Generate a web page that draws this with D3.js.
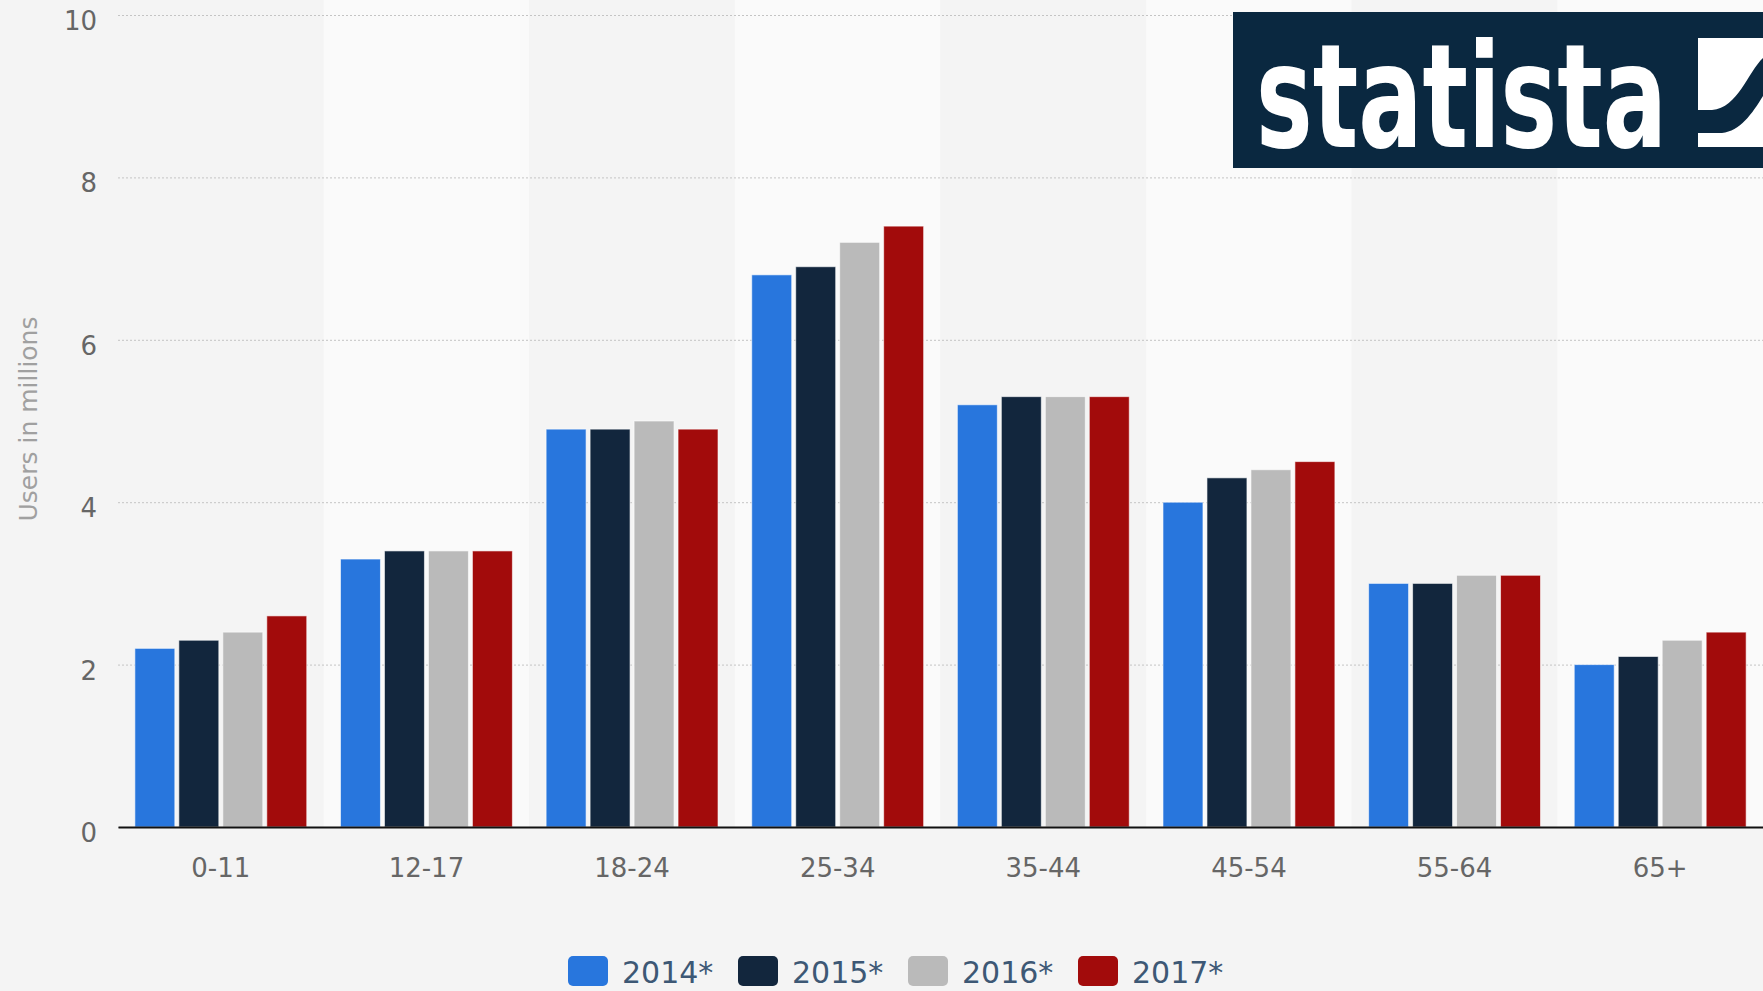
<!DOCTYPE html>
<html>
<head>
<meta charset="utf-8">
<script src="https://d3js.org/d3.v7.min.js"></script>
<style>
	body { margin: 0; background: #f4f4f4; }
	svg { display: block; }
</style>
</head>
<body>
<svg id="chart" width="1763" height="991"></svg>
<script>
// age groups on the x axis
const AGE_GROUPS = ["0-11", "12-17", "18-24", "25-34", "35-44", "45-54", "55-64", "65+"];
const YEARS = ["2014*", "2015*", "2016*", "2017*"];

// users in millions, one array per year (same order as AGE_GROUPS)
const users2014 = [2.2, 3.3, 4.9, 6.8, 5.2, 4.0, 3.0, 2.0];
const users2015 = [2.3, 3.4, 4.9, 6.9, 5.3, 4.3, 3.0, 2.1];
const users2016 = [2.4, 3.4, 5.0, 7.2, 5.3, 4.4, 3.1, 2.3];
const users2017 = [2.6, 3.4, 4.9, 7.4, 5.3, 4.5, 3.1, 2.4];

const Y_TICKS = [0, 2, 4, 6, 8, 10];
const COLORS = ["#2876dd", "#12263d", "#bababa", "#a20b0b"];

const seriesValues = [users2014, users2015, users2016, users2017];

const svg = d3.select("#chart");
const margins = {top: 15, right: 0, bottom: 164, left: 118};
const width = 1763, height = 991;
const baseY = height - margins.bottom;

let x0 = d3.scaleBand()
	.domain(AGE_GROUPS)
	.range([margins.left, width - margins.right])
	.paddingInner(0.164)
	.paddingOuter(0.082);

let x1 = d3.scaleBand()
	.domain(YEARS)
	.range([0, x0.bandwidth()])
	.paddingInner(0.091);

let y = d3.scaleLinear()
	.domain([0, 10])
	.range([baseY, margins.top]);

let color = d3.scaleOrdinal().domain(YEARS).range(COLORS);

// alternating column backgrounds
let halfGap = x0.step() * x0.paddingInner() / 2;
svg.append("g").selectAll("rect")
	.data(AGE_GROUPS)
	.join("rect")
	.attr("x", d => x0(d) - halfGap)
	.attr("y", 0)
	.attr("width", x0.step())
	.attr("height", baseY)
	.attr("fill", (d, i) => i % 2 ? "#fafafa" : "#f4f4f4");

// dotted grid lines + y labels
let yAxis = svg.append("g")
	.attr("transform", `translate(${margins.left},0)`)
	.call(d3.axisLeft(y).tickValues(Y_TICKS).tickSize(-(width - margins.left - margins.right)).tickPadding(21));
yAxis.select(".domain").remove();
yAxis.selectAll(".tick line")
	.attr("stroke", "#c4c4c4")
	.attr("stroke-dasharray", "2,2");
yAxis.selectAll(".tick text")
	.attr("dy", "14.5")
	.attr("fill", "#666")
	.style("font", "26px 'DejaVu Sans'");

// y axis title
svg.append("text")
	.attr("transform", `translate(37,419) rotate(-90)`)
	.attr("text-anchor", "middle")
	.attr("fill", "#a0a0a0")
	.style("font", "25px 'DejaVu Sans'")
	.text("Users in millions");

// bars
let groups = svg.append("g").selectAll("g")
	.data(AGE_GROUPS)
	.join("g")
	.attr("transform", d => `translate(${x0(d)},0)`);

groups.selectAll("rect")
	.data((d, i) => YEARS.map((yr, j) => ({year: yr, value: seriesValues[j][i]})))
	.join("rect")
	.attr("x", d => x1(d.year))
	.attr("y", d => y(d.value))
	.attr("width", x1.bandwidth())
	.attr("height", d => baseY - y(d.value))
	.attr("fill", d => color(d.year))
	.attr("stroke", "#fff")
	.attr("stroke-opacity", 0.6)
	.attr("stroke-width", 1);

// x axis
let xAxis = svg.append("g")
	.attr("transform", `translate(0,${baseY})`)
	.call(d3.axisBottom(x0).tickSize(0).tickPadding(0));
xAxis.select(".domain")
	.attr("stroke", "#111")
	.attr("stroke-width", 2);
xAxis.selectAll(".tick text")
	.attr("y", 50)
	.attr("dy", 0)
	.attr("fill", "#666")
	.style("font", "26px 'DejaVu Sans'");

// legend (kept just inside the bottom edge)
let legend = svg.append("g").selectAll("g")
	.data(YEARS)
	.join("g")
	.attr("transform", (d, i) => `translate(${568 + i * 170},956)`);
legend.append("rect")
	.attr("width", 40)
	.attr("height", 30)
	.attr("rx", 5)
	.attr("fill", d => color(d));
legend.append("text")
	.attr("x", 54)
	.attr("y", 27)
	.attr("fill", "#3d5875")
	.style("font", "30px 'DejaVu Sans'")
	.text(d => d);

// statista logo box
let logo = svg.append("g");
logo.append("rect")
	.attr("x", 1233).attr("y", 12)
	.attr("width", 530).attr("height", 156)
	.attr("fill", "#0a2840");
// condensed wordmark: smaller font stretched vertically so it stays inside the box
logo.append("text")
	.attr("transform", "translate(1256,147) scale(1,1.37)")
	.attr("textLength", 411)
	.attr("lengthAdjust", "spacingAndGlyphs")
	.attr("fill", "#fff")
	.style("font", "bold 106px 'DejaVu Sans Condensed', 'DejaVu Sans', sans-serif")
	.text("statista");
logo.append("path")
	.attr("fill", "#fff")
	.attr("d", "M1698,38 H1763 V58 C1748,72 1738,108 1712,110 H1698 Z");
logo.append("path")
	.attr("fill", "#fff")
	.attr("d", "M1698,133 H1722 C1740,131 1752,114 1763,96 V147 H1698 Z");
</script>
</body>
</html>
